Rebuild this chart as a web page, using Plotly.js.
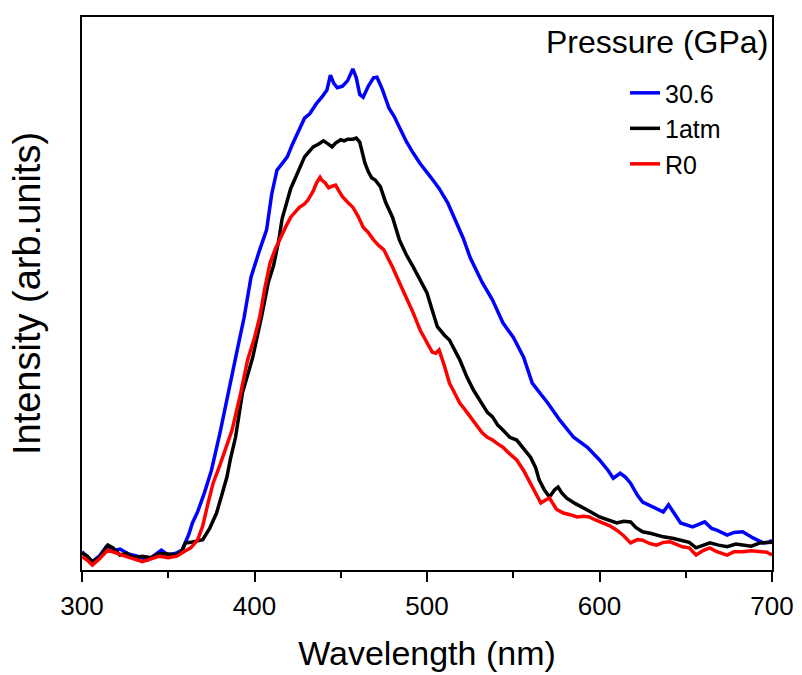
<!DOCTYPE html>
<html>
<head>
<meta charset="utf-8">
<script src="https://cdn.plot.ly/plotly-3.0.1.min.js"></script>
<style>html,body{margin:0;padding:0;background:#fff;}#chart{width:802px;height:675px;}</style>
</head>
<body>
<div id="chart"></div>
<script>
// Series 30.6 GPa (blue)
const wlBlue = [300,303,306,310,314,318,322,327,332,338,342,346,350,355,358,360,362,364,367,371,375,380,385,390,394,398,403,407,410,413,416,419,422,425,429,432,436,439,442,444,446,448,451,454,457,459,461,463,466,469,471,474,478,481,484,488,492,496,502,507,512,516,521,525,528,532,538,544,550,556,561,566,570,577,585,593,600,605,608,612,615,618,622,625,631,637,640,643,647,654,661,665,668,674,678,683,689,695,698,700];
const intBlue = [0.033,0.025,0.015,0.025,0.042,0.035,0.038,0.029,0.025,0.018,0.027,0.036,0.027,0.031,0.036,0.051,0.065,0.085,0.105,0.140,0.180,0.248,0.320,0.398,0.457,0.530,0.579,0.615,0.680,0.723,0.735,0.747,0.770,0.790,0.817,0.825,0.844,0.855,0.868,0.895,0.880,0.872,0.875,0.885,0.906,0.890,0.860,0.855,0.875,0.890,0.891,0.870,0.835,0.820,0.801,0.775,0.754,0.735,0.711,0.690,0.664,0.635,0.600,0.565,0.545,0.520,0.488,0.447,0.421,0.385,0.338,0.318,0.302,0.271,0.240,0.222,0.199,0.180,0.166,0.175,0.168,0.157,0.135,0.123,0.114,0.105,0.118,0.105,0.085,0.078,0.087,0.075,0.072,0.063,0.068,0.069,0.058,0.049,0.050,0.054];

// Series 1atm (black)
const wlBlack = [300,303,306,310,315,318,322,326,330,335,340,345,350,355,358,360,363,366,370,374,378,381,384,386,389,393,396,399,404,408,411,414,416,419,421,424,427,429,432,434,437,440,442,445,447,450,452,454,457,459,461,463,464,466,468,470,473,476,480,484,488,492,496,500,503,506,510,513,519,523,527,530,532,535,538,541,544,548,552,556,560,563,565,568,571,574,576,578,581,586,590,595,600,605,610,614,618,621,625,630,637,643,648,652,656,660,664,669,674,679,683,688,693,698,700];
const intBlack = [0.031,0.025,0.015,0.022,0.045,0.040,0.027,0.030,0.022,0.025,0.022,0.030,0.029,0.027,0.035,0.049,0.050,0.052,0.055,0.075,0.103,0.135,0.168,0.200,0.240,0.320,0.355,0.385,0.457,0.520,0.550,0.595,0.635,0.669,0.690,0.711,0.735,0.747,0.758,0.765,0.770,0.776,0.772,0.765,0.772,0.778,0.776,0.779,0.779,0.781,0.774,0.750,0.736,0.720,0.709,0.705,0.693,0.665,0.638,0.597,0.570,0.548,0.525,0.501,0.470,0.440,0.425,0.416,0.380,0.350,0.325,0.310,0.298,0.285,0.277,0.262,0.253,0.240,0.235,0.220,0.204,0.185,0.163,0.145,0.132,0.145,0.150,0.140,0.130,0.120,0.114,0.105,0.096,0.090,0.085,0.088,0.087,0.077,0.069,0.066,0.060,0.057,0.054,0.050,0.040,0.045,0.049,0.045,0.042,0.047,0.045,0.043,0.049,0.049,0.050];

// Series R0 (red)
const wlRed = [300,303,306,310,315,320,325,330,335,340,345,350,355,359,363,367,370,373,376,380,384,387,392,396,400,403,406,409,412,415,418,421,424,426,429,431,434,436,438,439,441,443,445,447,449,451,454,457,460,463,466,469,472,475,478,480,484,488,492,496,500,503,505,507,510,513,516,519,522,525,529,532,535,538,541,544,548,552,556,560,563,566,569,571,575,579,583,587,591,594,598,602,606,610,614,618,622,625,629,633,637,641,645,648,652,656,660,664,668,674,678,683,688,693,697,700];
const intRed = [0.024,0.018,0.009,0.020,0.036,0.030,0.025,0.020,0.015,0.020,0.025,0.022,0.025,0.033,0.040,0.054,0.080,0.120,0.157,0.190,0.225,0.253,0.320,0.380,0.420,0.457,0.510,0.555,0.580,0.602,0.620,0.638,0.648,0.656,0.662,0.669,0.685,0.700,0.710,0.705,0.700,0.691,0.694,0.696,0.685,0.675,0.665,0.656,0.640,0.620,0.610,0.597,0.587,0.579,0.560,0.548,0.520,0.494,0.465,0.434,0.410,0.394,0.392,0.398,0.370,0.338,0.320,0.302,0.290,0.277,0.260,0.248,0.240,0.235,0.228,0.222,0.210,0.199,0.180,0.157,0.140,0.121,0.127,0.130,0.110,0.103,0.100,0.096,0.097,0.096,0.090,0.085,0.080,0.072,0.062,0.049,0.055,0.054,0.048,0.045,0.050,0.051,0.046,0.042,0.040,0.027,0.035,0.040,0.033,0.027,0.033,0.033,0.035,0.033,0.032,0.027];

const seriesNames = ['30.6', '1atm', 'R0'];
const legendTitle = 'Pressure (GPa)';
const xTitle = 'Wavelength (nm)';
const yTitle = 'Intensity (arb.units)';

const FONT = 'Liberation Sans, Arial, sans-serif';

const traces = [
  {x: wlBlue, y: intBlue, name: seriesNames[0], type: 'scatter', mode: 'lines', line: {color: '#0000ff', width: 3.5}},
  {x: wlBlack, y: intBlack, name: seriesNames[1], type: 'scatter', mode: 'lines', line: {color: '#000000', width: 3.5}},
  {x: wlRed, y: intRed, name: seriesNames[2], type: 'scatter', mode: 'lines', line: {color: '#ff0000', width: 3.5}}
];

const layout = {
  width: 802, height: 675,
  margin: {l: 82, r: 30, t: 17, b: 105},
  paper_bgcolor: '#ffffff', plot_bgcolor: '#ffffff',
  font: {family: FONT, color: '#000'},
  showlegend: true,
  legend: {
    x: 0.787, y: 0.904, xanchor: 'left', yanchor: 'top',
    font: {family: FONT, size: 25, color: '#000'},
    bgcolor: 'rgba(0,0,0,0)', borderwidth: 0,
    tracegroupgap: 0
  },
  annotations: [{
    text: legendTitle, xref: 'paper', yref: 'paper',
    x: 0.997, y: 0.955, xanchor: 'right', yanchor: 'middle',
    showarrow: false, font: {family: FONT, size: 32, color: '#000'}
  }],
  xaxis: {
    range: [300, 700], dtick: 100, tick0: 300,
    ticks: 'outside', ticklen: 10, tickwidth: 2, tickcolor: '#000',
    ticklabelstandoff: 2,
    minor: {dtick: 50, ticks: 'outside', ticklen: 6, tickwidth: 2, tickcolor: '#000'},
    showline: true, linewidth: 2, linecolor: '#000', mirror: true,
    showgrid: false, zeroline: false,
    tickfont: {family: FONT, size: 26, color: '#000'},
    title: {text: xTitle, font: {family: FONT, size: 34, color: '#000'}, standoff: 21},
    automargin: false
  },
  yaxis: {
    range: [0, 1],
    showticklabels: false, ticks: '',
    showline: true, linewidth: 2, linecolor: '#000', mirror: true,
    showgrid: false, zeroline: false,
    title: {text: yTitle, font: {family: FONT, size: 38, color: '#000'}, standoff: 28},
    automargin: false
  }
};

Plotly.newPlot('chart', traces, layout, {displayModeBar: false, staticPlot: true});
</script>
</body>
</html>
